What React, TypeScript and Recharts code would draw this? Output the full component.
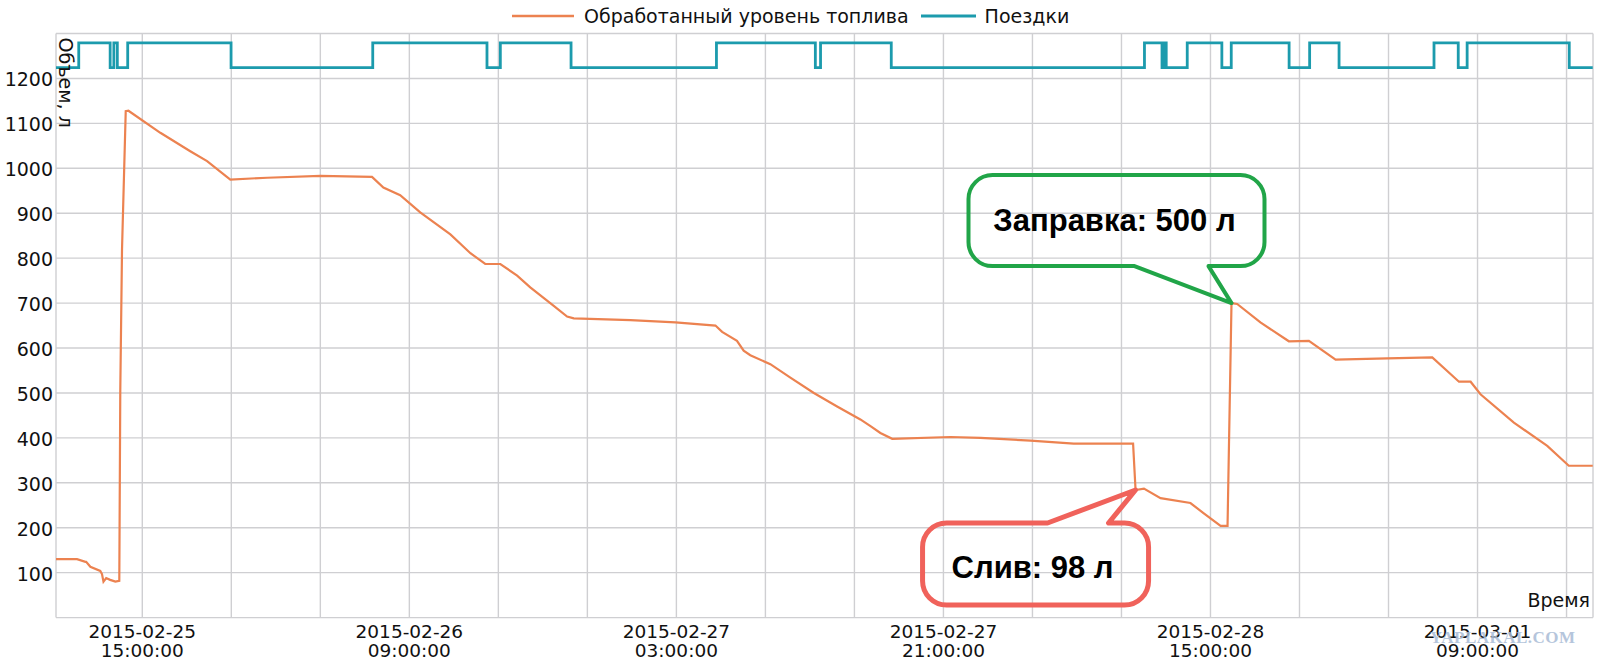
import React from 'react';
import { LineChart, Line, XAxis, YAxis, CartesianGrid, Legend, ReferenceDot } from 'recharts';

// ---------- data ----------
const FUEL_TIMES = [
  '2015-02-25 09:11', '2015-02-25 10:36', '2015-02-25 11:10', '2015-02-25 11:13', '2015-02-25 11:30',
  '2015-02-25 12:10', '2015-02-25 12:17', '2015-02-25 12:23', '2015-02-25 12:34', '2015-02-25 12:50',
  '2015-02-25 13:11', '2015-02-25 13:27', '2015-02-25 13:31', '2015-02-25 13:38', '2015-02-25 13:53',
  '2015-02-25 14:04', '2015-02-25 16:13', '2015-02-25 18:14', '2015-02-25 19:22', '2015-02-25 20:56',
  '2015-02-25 23:25', '2015-02-26 03:00', '2015-02-26 06:29', '2015-02-26 07:15', '2015-02-26 08:23',
  '2015-02-26 09:44', '2015-02-26 11:46', '2015-02-26 13:07', '2015-02-26 14:07', '2015-02-26 15:08',
  '2015-02-26 16:16', '2015-02-26 17:09', '2015-02-26 18:44', '2015-02-26 19:38', '2015-02-26 20:05',
  '2015-02-26 23:54', '2015-02-27 02:56', '2015-02-27 05:38', '2015-02-27 06:05', '2015-02-27 07:05',
  '2015-02-27 07:32', '2015-02-27 07:59', '2015-02-27 09:20', '2015-02-27 10:41', '2015-02-27 12:16',
  '2015-02-27 13:50', '2015-02-27 15:24', '2015-02-27 16:05', '2015-02-27 16:45', '2015-02-27 17:33',
  '2015-02-27 21:28', '2015-02-27 23:30', '2015-02-28 02:52', '2015-02-28 05:47', '2015-02-28 09:47',
  '2015-02-28 09:57', '2015-02-28 10:31', '2015-02-28 11:38', '2015-02-28 13:39', '2015-02-28 14:33',
  '2015-02-28 15:41', '2015-02-28 16:09', '2015-02-28 16:25', '2015-02-28 16:48', '2015-02-28 18:22',
  '2015-02-28 20:17', '2015-02-28 21:38', '2015-02-28 23:26', '2015-03-01 02:55', '2015-03-01 05:57',
  '2015-03-01 07:45', '2015-03-01 08:32', '2015-03-01 09:12', '2015-03-01 11:27', '2015-03-01 13:42',
  '2015-03-01 15:09', '2015-03-01 16:46',
];
const FUEL_LEVELS = [
  130, 130, 124, 124, 113,
  104, 97, 80, 88, 84,
  80, 82, 507, 820, 1127,
  1128, 1079, 1038, 1016, 975,
  979, 983, 981, 957, 940,
  902, 853, 811, 787, 787,
  761, 735, 694, 670, 666,
  662, 657, 650, 636, 616,
  594, 584, 564, 534, 500,
  470, 441, 426, 411, 398,
  402, 400, 394, 387, 387,
  284, 287, 266, 255, 232,
  204, 204, 700, 698, 657,
  615, 616, 574, 577, 579,
  525, 525, 497, 434, 382,
  338, 338,
];

const TRIP_TIMES = [
  '2015-02-25 09:11', '2015-02-25 10:43', '2015-02-25 12:50', '2015-02-25 13:05', '2015-02-25 13:19',
  '2015-02-25 14:01', '2015-02-25 20:59', '2015-02-26 06:32', '2015-02-26 14:14', '2015-02-26 15:08',
  '2015-02-26 19:54', '2015-02-27 05:42', '2015-02-27 12:22', '2015-02-27 12:43', '2015-02-27 17:29',
  '2015-02-28 10:33', '2015-02-28 11:44', '2015-02-28 11:50', '2015-02-28 12:01', '2015-02-28 13:26',
  '2015-02-28 15:46', '2015-02-28 16:24', '2015-02-28 20:18', '2015-02-28 21:41', '2015-02-28 23:40',
  '2015-03-01 06:04', '2015-03-01 07:42', '2015-03-01 08:18', '2015-03-01 15:11', '2015-03-01 16:46',
];
const TRIP_LEVELS = [
  1224, 1279, 1224, 1279, 1224,
  1279, 1224, 1279, 1224, 1279,
  1224, 1279, 1224, 1279, 1224,
  1279, 1224, 1279, 1224, 1279,
  1224, 1279, 1224, 1279, 1224,
  1279, 1224, 1279, 1224, 1224,
];

const X_START = '2015-02-25 09:11';
const X_END = '2015-03-01 16:47';
const GRID_TIMES = [
  '2015-02-25 15:00', '2015-02-25 21:00', '2015-02-26 03:00', '2015-02-26 09:00', '2015-02-26 15:00',
  '2015-02-26 21:00', '2015-02-27 03:00', '2015-02-27 09:00', '2015-02-27 15:00', '2015-02-27 21:00',
  '2015-02-28 03:00', '2015-02-28 09:00', '2015-02-28 15:00', '2015-02-28 21:00', '2015-03-01 03:00',
  '2015-03-01 09:00', '2015-03-01 15:00',
];
const LABELED_TIMES = [
  '2015-02-25 15:00', '2015-02-26 09:00', '2015-02-27 03:00',
  '2015-02-27 21:00', '2015-02-28 15:00', '2015-03-01 09:00',
];
const Y_TICKS = [0, 100, 200, 300, 400, 500, 600, 700, 800, 900, 1000, 1100, 1200, 1300];
const Y_LABELED = [100, 200, 300, 400, 500, 600, 700, 800, 900, 1000, 1100, 1200];

const SERIES_FUEL = 'Обработанный уровень топлива';
const SERIES_TRIPS = 'Поездки';
const Y_TITLE = 'Объем, л';
const X_TITLE = 'Время';
const WATERMARK = 'YAPLAKAL.COM';

const REFUEL_AT = '2015-02-28 16:25';
const REFUEL_LEVEL = 700;
const REFUEL_TEXT = 'Заправка: 500 л';
const DRAIN_AT = '2015-02-28 09:57';
const DRAIN_LEVEL = 284;
const DRAIN_TEXT = 'Слив: 98 л';

// ---------- helpers ----------
const toMs = (s: string) => Date.parse(s.replace(' ', 'T') + ':00Z');
const fuelData = FUEL_TIMES.map((t, i) => ({ t: toMs(t), v: FUEL_LEVELS[i] }));
const tripData = TRIP_TIMES.map((t, i) => ({ t: toMs(t), v: TRIP_LEVELS[i] }));
const xTicks = [toMs(X_START), ...GRID_TIMES.map(toMs), toMs(X_END)];
const labeledMs = new Map(LABELED_TIMES.map((s) => [toMs(s), s]));

const FONT = '"DejaVu Sans", Verdana, sans-serif';
const ORANGE = '#ec8250';
const TEAL = '#1c9bad';
const GRID = '#cfcfd2';

const XTick = (props: any) => {
  const { x, y, payload } = props;
  const s = labeledMs.get(payload.value);
  if (!s) return null;
  const [d, tm] = s.split(' ');
  return (
    <g>
      <text x={x} y={y + 20.4} textAnchor="middle" fontFamily={FONT} fontSize={18.5} fill="#111">{d}</text>
      <text x={x} y={y + 39.6} textAnchor="middle" fontFamily={FONT} fontSize={18.5} fill="#111">{tm + ':00'}</text>
    </g>
  );
};

const YTick = (props: any) => {
  const { x, y, payload } = props;
  if (!Y_LABELED.includes(payload.value)) return null;
  return (
    <text x={x - 3} y={y + 8} textAnchor="end" fontFamily={FONT} fontSize={19} fill="#111">
      {payload.value}
    </text>
  );
};

const LegendContent = () => (
  <div style={{ display: 'flex', alignItems: 'center', height: 28, fontFamily: FONT, fontSize: 19, color: '#111', whiteSpace: 'nowrap' }}>
    <svg width={62} height={10}><line x1={0} y1={5} x2={62} y2={5} stroke={ORANGE} strokeWidth={2.5} /></svg>
    <span style={{ marginLeft: 10 }}>{SERIES_FUEL}</span>
    <svg width={55} height={10} style={{ marginLeft: 12 }}><line x1={0} y1={5} x2={55} y2={5} stroke={TEAL} strokeWidth={2.8} /></svg>
    <span style={{ marginLeft: 9 }}>{SERIES_TRIPS}</span>
  </div>
);

const box = (L: number, T: number, R: number, B: number, r: number) => ({ L, T, R, B, r });

const RefuelBubble = (props: any) => {
  const { cx, cy } = props;
  if (cx == null || cy == null) return null;
  const tx = cx, ty = cy;
  const { L, T, R, B, r } = box(tx - 263, ty - 128, tx + 33, ty - 37, 24);
  const x1 = tx - 97, x2 = tx - 23;
  const d = `M ${L + r} ${T} H ${R - r} A ${r} ${r} 0 0 1 ${R} ${T + r} V ${B - r} A ${r} ${r} 0 0 1 ${R - r} ${B} H ${x2} L ${tx} ${ty} L ${x1} ${B} H ${L + r} A ${r} ${r} 0 0 1 ${L} ${B - r} V ${T + r} A ${r} ${r} 0 0 1 ${L + r} ${T} Z`;
  return (
    <g>
      <path d={d} fill="none" stroke="#21a548" strokeWidth={4} strokeLinejoin="round" />
      <text x={(L + R) / 2 - 2} y={ty - 72} textAnchor="middle" fontFamily='"Liberation Sans", Arial, sans-serif' fontWeight="bold" fontSize={31} fill="#000">
        {REFUEL_TEXT}
      </text>
    </g>
  );
};

const DrainBubble = (props: any) => {
  const { cx, cy } = props;
  if (cx == null || cy == null) return null;
  const tx = cx, ty = cy;
  const { L, T, R, B, r } = box(tx - 213, ty + 33, tx + 13, ty + 115, 24);
  const x1 = tx - 88, x2 = tx - 27;
  const d = `M ${L + r} ${T} H ${x1} L ${tx} ${ty} L ${x2} ${T} H ${R - r} A ${r} ${r} 0 0 1 ${R} ${T + r} V ${B - r} A ${r} ${r} 0 0 1 ${R - r} ${B} H ${L + r} A ${r} ${r} 0 0 1 ${L} ${B - r} V ${T + r} A ${r} ${r} 0 0 1 ${L + r} ${T} Z`;
  return (
    <g>
      <path d={d} fill="none" stroke="#f0625b" strokeWidth={5} strokeLinejoin="round" />
      <text x={(L + R) / 2 - 3} y={ty + 88} textAnchor="middle" fontFamily='"Liberation Sans", Arial, sans-serif' fontWeight="bold" fontSize={31} fill="#000">
        {DRAIN_TEXT}
      </text>
    </g>
  );
};

export default function App() {
  return (
    <div style={{ position: 'absolute', left: 0, top: 0, width: 1600, height: 669, background: '#fff' }}>
      <LineChart width={1600} height={669} margin={{ top: 5.5, right: 7, bottom: 0, left: 0 }}>
        <CartesianGrid stroke={GRID} strokeWidth={1.4} />
        <XAxis
          dataKey="t"
          type="number"
          domain={[toMs(X_START), toMs(X_END)]}
          allowDataOverflow
          ticks={xTicks}
          interval={0}
          tick={<XTick />}
          tickLine={false}
          tickSize={0}
          tickMargin={0}
          axisLine={false}
          height={51.4}
          label={{
            content: (p: any) => {
              const vb = p.viewBox || {};
              return (
                <text x={vb.x + vb.width - 3} y={vb.y - 11} textAnchor="end" fontFamily={FONT} fontSize={19} fill="#111">
                  {X_TITLE}
                </text>
              );
            },
          }}
        />
        <YAxis
          type="number"
          domain={[0, 1300]}
          ticks={Y_TICKS}
          interval={0}
          tick={<YTick />}
          tickLine={false}
          tickSize={0}
          tickMargin={0}
          axisLine={false}
          width={56}
          label={{
            content: (p: any) => {
              const vb = p.viewBox || {};
              return (
                <text transform={`translate(${vb.x + vb.width + 3}, ${vb.y + 4}) rotate(90)`} fontFamily={FONT} fontSize={19} fill="#111">
                  {Y_TITLE}
                </text>
              );
            },
          }}
        />
        <Legend
          verticalAlign="top"
          align="left"
          height={28}
          wrapperStyle={{ top: 2, left: 512, width: 'auto', height: 28 }}
          content={<LegendContent />}
        />
        <Line
          data={fuelData}
          dataKey="v"
          name={SERIES_FUEL}
          type="linear"
          stroke={ORANGE}
          strokeWidth={2.2}
          dot={false}
          activeDot={false}
          isAnimationActive={false}
        />
        <Line
          data={tripData}
          dataKey="v"
          name={SERIES_TRIPS}
          type="stepAfter"
          stroke={TEAL}
          strokeWidth={2.8}
          dot={false}
          activeDot={false}
          isAnimationActive={false}
        />
        <ReferenceDot x={toMs(REFUEL_AT)} y={REFUEL_LEVEL} r={0} shape={<RefuelBubble />} />
        <ReferenceDot x={toMs(DRAIN_AT)} y={DRAIN_LEVEL} r={0} shape={<DrainBubble />} />
      </LineChart>
      <div
        style={{
          position: 'absolute', left: 1430, top: 628, fontFamily: '"Liberation Serif", serif', fontWeight: 'bold',
          fontSize: 17, color: '#a9bcd6', opacity: 0.85, letterSpacing: 0.5,
        }}
      >
        {WATERMARK}
      </div>
    </div>
  );
}
